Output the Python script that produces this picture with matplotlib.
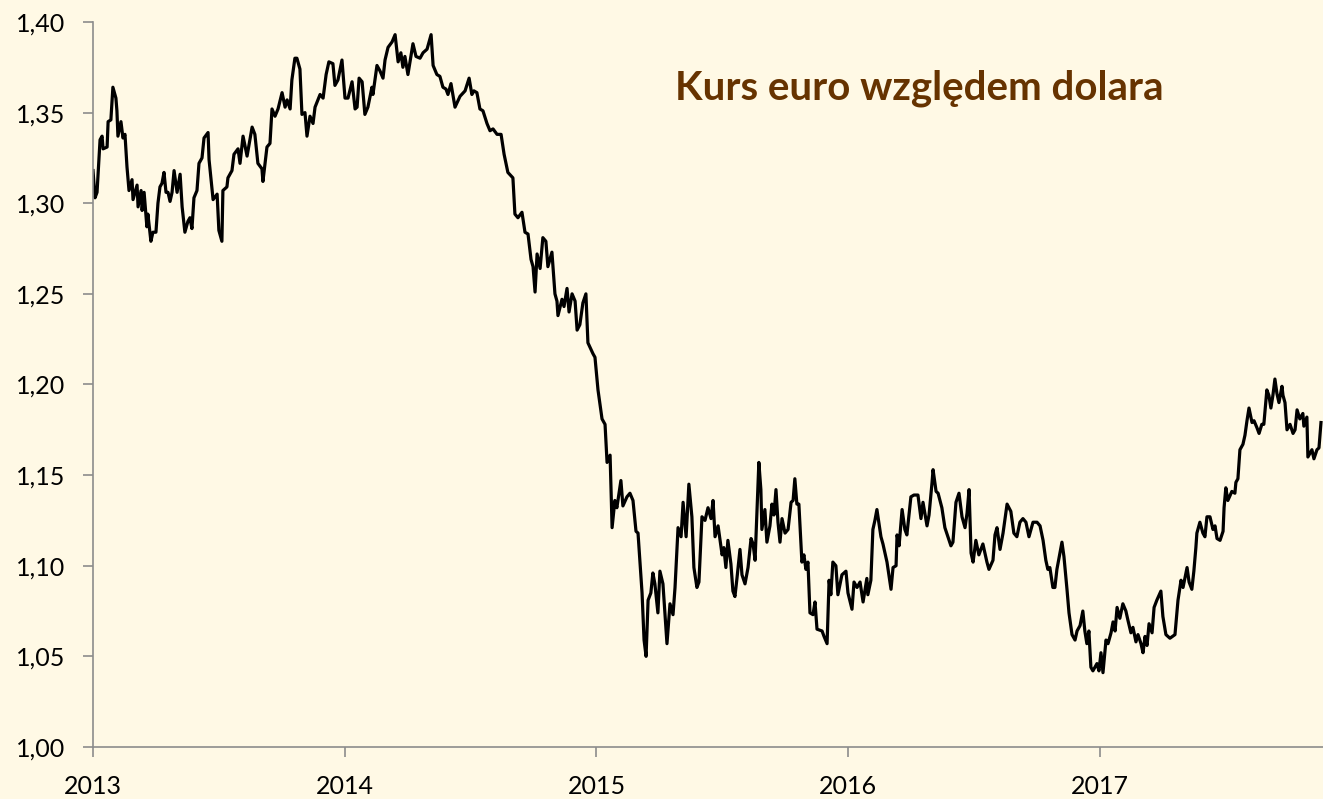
import matplotlib
matplotlib.use("Agg")
import matplotlib.pyplot as plt
from matplotlib.ticker import FuncFormatter, MultipleLocator

# czas w latach dziesietnych, kurs EUR/USD
czas = [
    2013.000, 2013.008, 2013.016, 2013.028, 2013.036, 2013.040, 2013.056, 2013.060, 2013.071, 2013.079,
    2013.091, 2013.095, 2013.099, 2013.111, 2013.119, 2013.127, 2013.135, 2013.143, 2013.155, 2013.159,
    2013.175, 2013.179, 2013.191, 2013.195, 2013.203, 2013.214, 2013.218, 2013.230, 2013.238, 2013.250,
    2013.258, 2013.266, 2013.274, 2013.282, 2013.290, 2013.298, 2013.306, 2013.314, 2013.322, 2013.334,
    2013.346, 2013.354, 2013.365, 2013.377, 2013.385, 2013.393, 2013.401, 2013.413, 2013.421, 2013.433,
    2013.441, 2013.457, 2013.461, 2013.469, 2013.477, 2013.493, 2013.500, 2013.512, 2013.516, 2013.532,
    2013.536, 2013.552, 2013.560, 2013.576, 2013.584, 2013.596, 2013.612, 2013.632, 2013.643, 2013.655,
    2013.671, 2013.675, 2013.691, 2013.703, 2013.711, 2013.723, 2013.735, 2013.751, 2013.763, 2013.771,
    2013.783, 2013.790, 2013.802, 2013.810, 2013.822, 2013.830, 2013.842, 2013.850, 2013.862, 2013.874,
    2013.882, 2013.902, 2013.914, 2013.926, 2013.937, 2013.953, 2013.961, 2013.973, 2013.989,
    2014.001, 2014.013, 2014.029, 2014.041, 2014.049, 2014.057, 2014.069, 2014.080, 2014.092, 2014.108,
    2014.112, 2014.128, 2014.140, 2014.152, 2014.160, 2014.172, 2014.188, 2014.200, 2014.212, 2014.223,
    2014.231, 2014.239, 2014.251, 2014.271, 2014.283, 2014.299, 2014.311, 2014.327, 2014.343, 2014.351,
    2014.366, 2014.378, 2014.390, 2014.402, 2014.410, 2014.422, 2014.438, 2014.458, 2014.478, 2014.494,
    2014.505, 2014.513, 2014.525, 2014.537, 2014.549, 2014.565, 2014.577, 2014.589, 2014.605, 2014.621,
    2014.633, 2014.648, 2014.668, 2014.676, 2014.688, 2014.704, 2014.716, 2014.728, 2014.740, 2014.748,
    2014.756, 2014.764, 2014.776, 2014.787, 2014.799, 2014.807, 2014.823, 2014.835, 2014.843, 2014.847,
    2014.863, 2014.871, 2014.883, 2014.891, 2014.903, 2014.915, 2014.923, 2014.934, 2014.946, 2014.958,
    2014.966, 2014.986, 2014.994,
    2015.006, 2015.022, 2015.034, 2015.042, 2015.054, 2015.062, 2015.073, 2015.081, 2015.097, 2015.105,
    2015.121, 2015.133, 2015.145, 2015.157, 2015.165, 2015.181, 2015.189, 2015.197, 2015.205, 2015.216,
    2015.224, 2015.232, 2015.244, 2015.252, 2015.264, 2015.280, 2015.292, 2015.304, 2015.312, 2015.324,
    2015.336, 2015.344, 2015.356, 2015.367, 2015.379, 2015.387, 2015.399, 2015.407, 2015.419, 2015.431,
    2015.443, 2015.455, 2015.463, 2015.471, 2015.483, 2015.499, 2015.506, 2015.514, 2015.522, 2015.534,
    2015.542, 2015.550, 2015.558, 2015.570, 2015.578, 2015.590, 2015.602, 2015.614, 2015.622, 2015.630,
    2015.638, 2015.645, 2015.653, 2015.657, 2015.669, 2015.677, 2015.689, 2015.697, 2015.705, 2015.713,
    2015.721, 2015.729, 2015.737, 2015.749, 2015.761, 2015.773, 2015.781, 2015.788, 2015.796, 2015.804,
    2015.816, 2015.824, 2015.832, 2015.840, 2015.848, 2015.860, 2015.868, 2015.876, 2015.896, 2015.904,
    2015.916, 2015.924, 2015.931, 2015.939, 2015.951, 2015.959, 2015.975, 2015.991, 2015.999,
    2016.015, 2016.023, 2016.035, 2016.047, 2016.059, 2016.074, 2016.078, 2016.090, 2016.098, 2016.106,
    2016.114, 2016.130, 2016.138, 2016.154, 2016.170, 2016.178, 2016.190, 2016.194, 2016.202, 2016.214,
    2016.225, 2016.233, 2016.249, 2016.261, 2016.277, 2016.289, 2016.297, 2016.313, 2016.321, 2016.333,
    2016.337, 2016.349, 2016.357, 2016.372, 2016.384, 2016.396, 2016.408, 2016.416, 2016.428, 2016.440,
    2016.452, 2016.464, 2016.472, 2016.480, 2016.488, 2016.496, 2016.507, 2016.519, 2016.535, 2016.551,
    2016.559, 2016.575, 2016.583, 2016.591, 2016.603, 2016.615, 2016.631, 2016.646, 2016.658, 2016.670,
    2016.682, 2016.694, 2016.706, 2016.718, 2016.734, 2016.750, 2016.762, 2016.774, 2016.785, 2016.793,
    2016.801, 2016.813, 2016.821, 2016.829, 2016.849, 2016.857, 2016.869, 2016.877, 2016.889, 2016.901,
    2016.909, 2016.921, 2016.932, 2016.940, 2016.948, 2016.956, 2016.964, 2016.972, 2016.988, 2016.996,
    2017.004, 2017.012, 2017.024, 2017.032, 2017.044, 2017.052, 2017.060, 2017.068, 2017.079, 2017.091,
    2017.103, 2017.111, 2017.123, 2017.131, 2017.143, 2017.151, 2017.163, 2017.171, 2017.179, 2017.187,
    2017.195, 2017.207, 2017.215, 2017.226, 2017.242, 2017.250, 2017.262, 2017.278, 2017.298, 2017.310,
    2017.322, 2017.330, 2017.346, 2017.354, 2017.365, 2017.373, 2017.381, 2017.385, 2017.397, 2017.409,
    2017.417, 2017.425, 2017.437, 2017.449, 2017.457, 2017.465, 2017.477, 2017.489, 2017.493, 2017.500,
    2017.508, 2017.524, 2017.536, 2017.540, 2017.548, 2017.556, 2017.568, 2017.576, 2017.584, 2017.592,
    2017.604, 2017.612, 2017.624, 2017.632, 2017.643, 2017.651, 2017.663, 2017.671, 2017.679, 2017.687,
    2017.695, 2017.703, 2017.711, 2017.723, 2017.727, 2017.735, 2017.743, 2017.755, 2017.767, 2017.775,
    2017.783, 2017.794, 2017.806, 2017.810, 2017.822, 2017.826, 2017.842, 2017.850, 2017.862, 2017.870,
    2017.878,
]

kurs = [
    1.318, 1.303, 1.306, 1.335, 1.337, 1.330, 1.331, 1.345, 1.346, 1.364,
    1.358, 1.351, 1.337, 1.345, 1.336, 1.338, 1.320, 1.307, 1.313, 1.302,
    1.310, 1.298, 1.307, 1.296, 1.306, 1.287, 1.294, 1.279, 1.284, 1.284,
    1.300, 1.309, 1.311, 1.317, 1.306, 1.306, 1.301, 1.306, 1.318, 1.306,
    1.316, 1.298, 1.284, 1.290, 1.292, 1.286, 1.303, 1.307, 1.322, 1.325,
    1.336, 1.339, 1.324, 1.313, 1.302, 1.305, 1.285, 1.279, 1.307, 1.309,
    1.314, 1.318, 1.327, 1.330, 1.322, 1.337, 1.326, 1.342, 1.338, 1.322,
    1.319, 1.312, 1.331, 1.333, 1.352, 1.348, 1.352, 1.361, 1.353, 1.357,
    1.352, 1.368, 1.380, 1.380, 1.374, 1.349, 1.350, 1.337, 1.348, 1.344,
    1.353, 1.360, 1.358, 1.371, 1.378, 1.377, 1.365, 1.368, 1.379,
    1.358, 1.358, 1.367, 1.352, 1.353, 1.369, 1.367, 1.349, 1.353, 1.364,
    1.360, 1.376, 1.373, 1.369, 1.379, 1.386, 1.389, 1.393, 1.378, 1.383,
    1.375, 1.381, 1.371, 1.388, 1.381, 1.380, 1.383, 1.385, 1.393, 1.376,
    1.371, 1.370, 1.364, 1.363, 1.360, 1.366, 1.353, 1.359, 1.362, 1.369,
    1.360, 1.362, 1.361, 1.352, 1.351, 1.344, 1.340, 1.341, 1.338, 1.338,
    1.327, 1.317, 1.314, 1.294, 1.292, 1.295, 1.284, 1.283, 1.269, 1.265,
    1.251, 1.272, 1.264, 1.281, 1.279, 1.265, 1.273, 1.250, 1.246, 1.238,
    1.247, 1.243, 1.253, 1.240, 1.250, 1.246, 1.230, 1.233, 1.245, 1.250,
    1.223, 1.217, 1.215,
    1.197, 1.181, 1.178, 1.157, 1.161, 1.121, 1.136, 1.132, 1.147, 1.133,
    1.138, 1.140, 1.136, 1.119, 1.118, 1.085, 1.059, 1.050, 1.081, 1.085,
    1.096, 1.090, 1.074, 1.097, 1.090, 1.057, 1.079, 1.073, 1.088, 1.121,
    1.116, 1.135, 1.116, 1.145, 1.127, 1.099, 1.088, 1.091, 1.127, 1.125,
    1.132, 1.126, 1.136, 1.116, 1.122, 1.106, 1.110, 1.099, 1.114, 1.101,
    1.086, 1.083, 1.093, 1.109, 1.095, 1.090, 1.099, 1.115, 1.112, 1.103,
    1.132, 1.157, 1.142, 1.120, 1.131, 1.113, 1.122, 1.134, 1.128, 1.142,
    1.124, 1.113, 1.126, 1.118, 1.120, 1.135, 1.136, 1.148, 1.134, 1.134,
    1.102, 1.106, 1.098, 1.102, 1.074, 1.073, 1.080, 1.065, 1.064, 1.061,
    1.057, 1.092, 1.084, 1.102, 1.100, 1.084, 1.095, 1.097, 1.085,
    1.076, 1.091, 1.088, 1.091, 1.080, 1.093, 1.084, 1.092, 1.120, 1.125,
    1.131, 1.116, 1.112, 1.102, 1.087, 1.099, 1.100, 1.117, 1.111, 1.131,
    1.120, 1.117, 1.138, 1.139, 1.139, 1.126, 1.135, 1.122, 1.128, 1.146,
    1.153, 1.141, 1.140, 1.132, 1.121, 1.116, 1.111, 1.113, 1.135, 1.140,
    1.127, 1.121, 1.129, 1.142, 1.107, 1.102, 1.114, 1.106, 1.112, 1.102,
    1.098, 1.103, 1.117, 1.121, 1.109, 1.118, 1.134, 1.130, 1.118, 1.116,
    1.124, 1.126, 1.124, 1.116, 1.124, 1.124, 1.122, 1.114, 1.103, 1.098,
    1.099, 1.088, 1.088, 1.098, 1.113, 1.105, 1.087, 1.074, 1.062, 1.059,
    1.064, 1.067, 1.075, 1.064, 1.057, 1.064, 1.044, 1.042, 1.046, 1.042,
    1.052, 1.041, 1.059, 1.057, 1.063, 1.069, 1.064, 1.077, 1.071, 1.079,
    1.075, 1.070, 1.063, 1.066, 1.058, 1.062, 1.057, 1.052, 1.061, 1.056,
    1.068, 1.063, 1.077, 1.081, 1.086, 1.072, 1.062, 1.060, 1.062, 1.081,
    1.092, 1.088, 1.099, 1.091, 1.087, 1.097, 1.110, 1.118, 1.124, 1.118,
    1.116, 1.127, 1.127, 1.120, 1.122, 1.115, 1.114, 1.119, 1.132, 1.143,
    1.136, 1.141, 1.140, 1.146, 1.148, 1.164, 1.167, 1.172, 1.180, 1.187,
    1.179, 1.180, 1.176, 1.173, 1.178, 1.178, 1.197, 1.194, 1.187, 1.194,
    1.203, 1.195, 1.190, 1.199, 1.194, 1.190, 1.175, 1.178, 1.173, 1.175,
    1.186, 1.181, 1.184, 1.177, 1.182, 1.160, 1.164, 1.159, 1.164, 1.165,
    1.179,
]

lata = [2013, 2014, 2015, 2016, 2017]
tytul = "Kurs euro względem dolara"

tlo = "#FFF9E5"
os_kolor = "#8C8C8C"

fig = plt.figure(figsize=(13.23, 7.99), dpi=100, facecolor=tlo)
ax = fig.add_axes([0.0703, 0.0651, 0.9297, 0.9074])
ax.set_facecolor(tlo)

ax.plot(czas, kurs, color="black", lw=2.3, solid_joinstyle="round")

ax.set_xlim(2013.0, 2017.886)
ax.set_ylim(1.0, 1.4)
ax.yaxis.set_major_locator(MultipleLocator(0.05))
ax.yaxis.set_major_formatter(FuncFormatter(lambda v, p: f"{v:.2f}".replace(".", ",")))
ax.set_xticks(lata)
ax.set_xticklabels([str(r) for r in lata])

for s in ["top", "right"]:
    ax.spines[s].set_visible(False)
for s in ["left", "bottom"]:
    ax.spines[s].set_color(os_kolor)
    ax.spines[s].set_linewidth(1.2)

ax.tick_params(axis="both", direction="out", length=7, width=1.2, color=os_kolor,
               labelsize=18, labelcolor="black")
ax.tick_params(axis="y", pad=13)
ax.tick_params(axis="x", pad=13)
for lab in ax.get_xticklabels() + ax.get_yticklabels():
    lab.set_family("Lato")

ax.text(0.672, 0.908, tytul, transform=ax.transAxes, ha="center", va="center",
        fontsize=29, fontweight="bold", color="#663300", family="Lato")

fig.savefig("out.png", dpi=100, facecolor=tlo)
